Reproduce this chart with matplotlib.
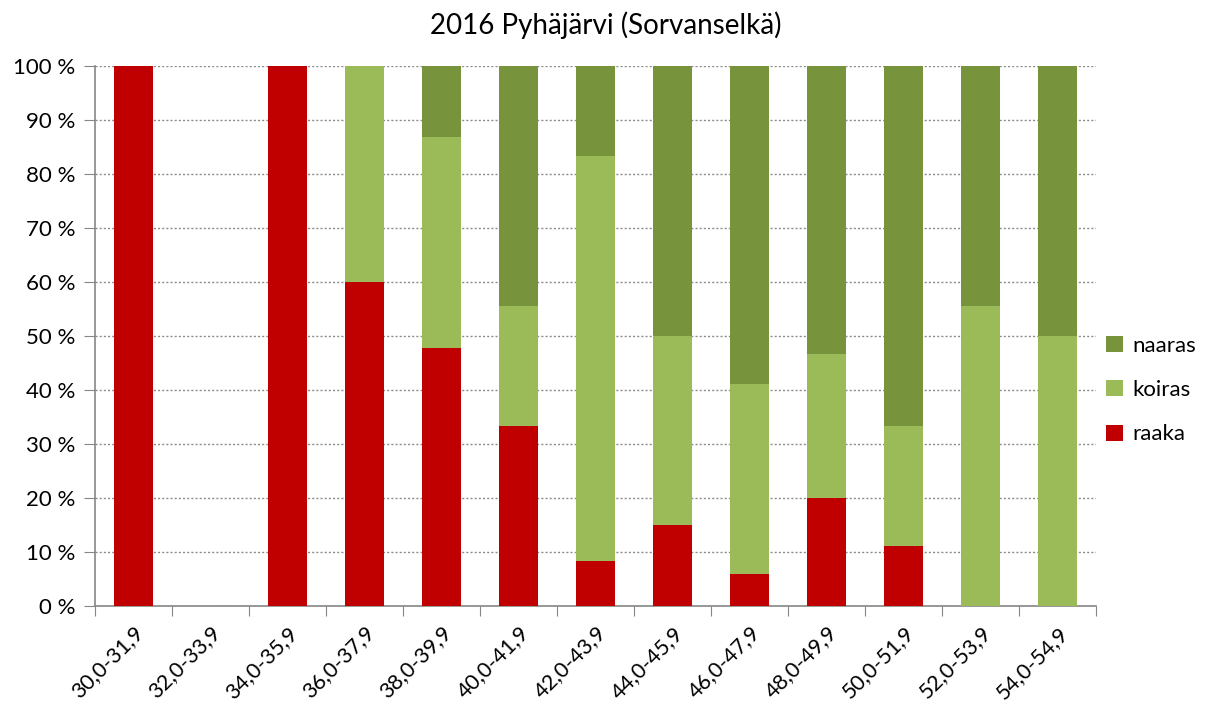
import numpy as np
import matplotlib
matplotlib.use('Agg')
import matplotlib.pyplot as plt
from matplotlib.ticker import FuncFormatter

plt.rcParams['font.family'] = ['Lato', 'DejaVu Sans']

categories = ['30,0-31,9', '32,0-33,9', '34,0-35,9', '36,0-37,9', '38,0-39,9',
              '40,0-41,9', '42,0-43,9', '44,0-45,9', '46,0-47,9', '48,0-49,9',
              '50,0-51,9', '52,0-53,9', '54,0-54,9']
raaka = [100, 0, 100, 60, 47.8, 33.3, 8.3, 15, 5.9, 20, 11.1, 0, 0]
koiras = [0, 0, 0, 40, 39.1, 22.2, 75.0, 35, 35.3, 26.7, 22.2, 55.6, 50]
naaras = [0, 0, 0, 0, 13.1, 44.5, 16.7, 50, 58.8, 53.3, 66.7, 44.4, 50]

c_raaka = '#C00000'
c_koiras = '#9BBB59'
c_naaras = '#77933C'

fig = plt.figure(figsize=(12.11, 7.13), dpi=100)
ax = fig.add_axes([95 / 1211, 1 - 606 / 713, 1001 / 1211, 540 / 713])

x = np.arange(len(categories))
raaka = np.array(raaka)
koiras = np.array(koiras)
naaras = np.array(naaras)
w = 0.5
ax.bar(x, raaka, w, color=c_raaka, label='raaka', zorder=3)
ax.bar(x, koiras, w, bottom=raaka, color=c_koiras, label='koiras', zorder=3)
ax.bar(x, naaras, w, bottom=raaka + koiras, color=c_naaras, label='naaras', zorder=3)

ax.set_xlim(-0.5, len(categories) - 0.5)
ax.set_ylim(0, 100)
ax.set_yticks(range(0, 101, 10))
ax.yaxis.set_major_formatter(FuncFormatter(lambda v, p: '%d %%' % v))
ax.grid(axis='y', color='#8c8c8c', linestyle=(0, (1.5, 1.5)), linewidth=1, zorder=0)

ax.set_xticks(np.arange(-0.5, len(categories), 1))
ax.set_xticklabels([])
ax.set_xticks(x, minor=True)
ax.set_xticklabels(categories, minor=True, rotation=45, ha='right', rotation_mode='anchor', fontsize=15.5)
ax.tick_params(axis='x', which='minor', length=0, pad=12)
ax.tick_params(axis='x', which='major', length=7, color='#868686', direction='out')
ax.tick_params(axis='y', length=8, color='#868686', labelsize=16, pad=6)

for s in ['top', 'right']:
    ax.spines[s].set_visible(False)
for s in ['left', 'bottom']:
    ax.spines[s].set_color('#868686')
    ax.spines[s].set_linewidth(1.2)

fig.text(0.5, 1 - 25 / 713, '2016 Pyhäjärvi (Sorvanselkä)', ha='center', va='center', fontsize=20)

h, l = ax.get_legend_handles_labels()
ax.legend(h[::-1], l[::-1], loc='center left', bbox_to_anchor=(0.99, 0.4), frameon=False,
          fontsize=16, handlelength=0.75, handleheight=0.75, labelspacing=1.1, handletextpad=0.45)

fig.savefig('out.png', dpi=100)
